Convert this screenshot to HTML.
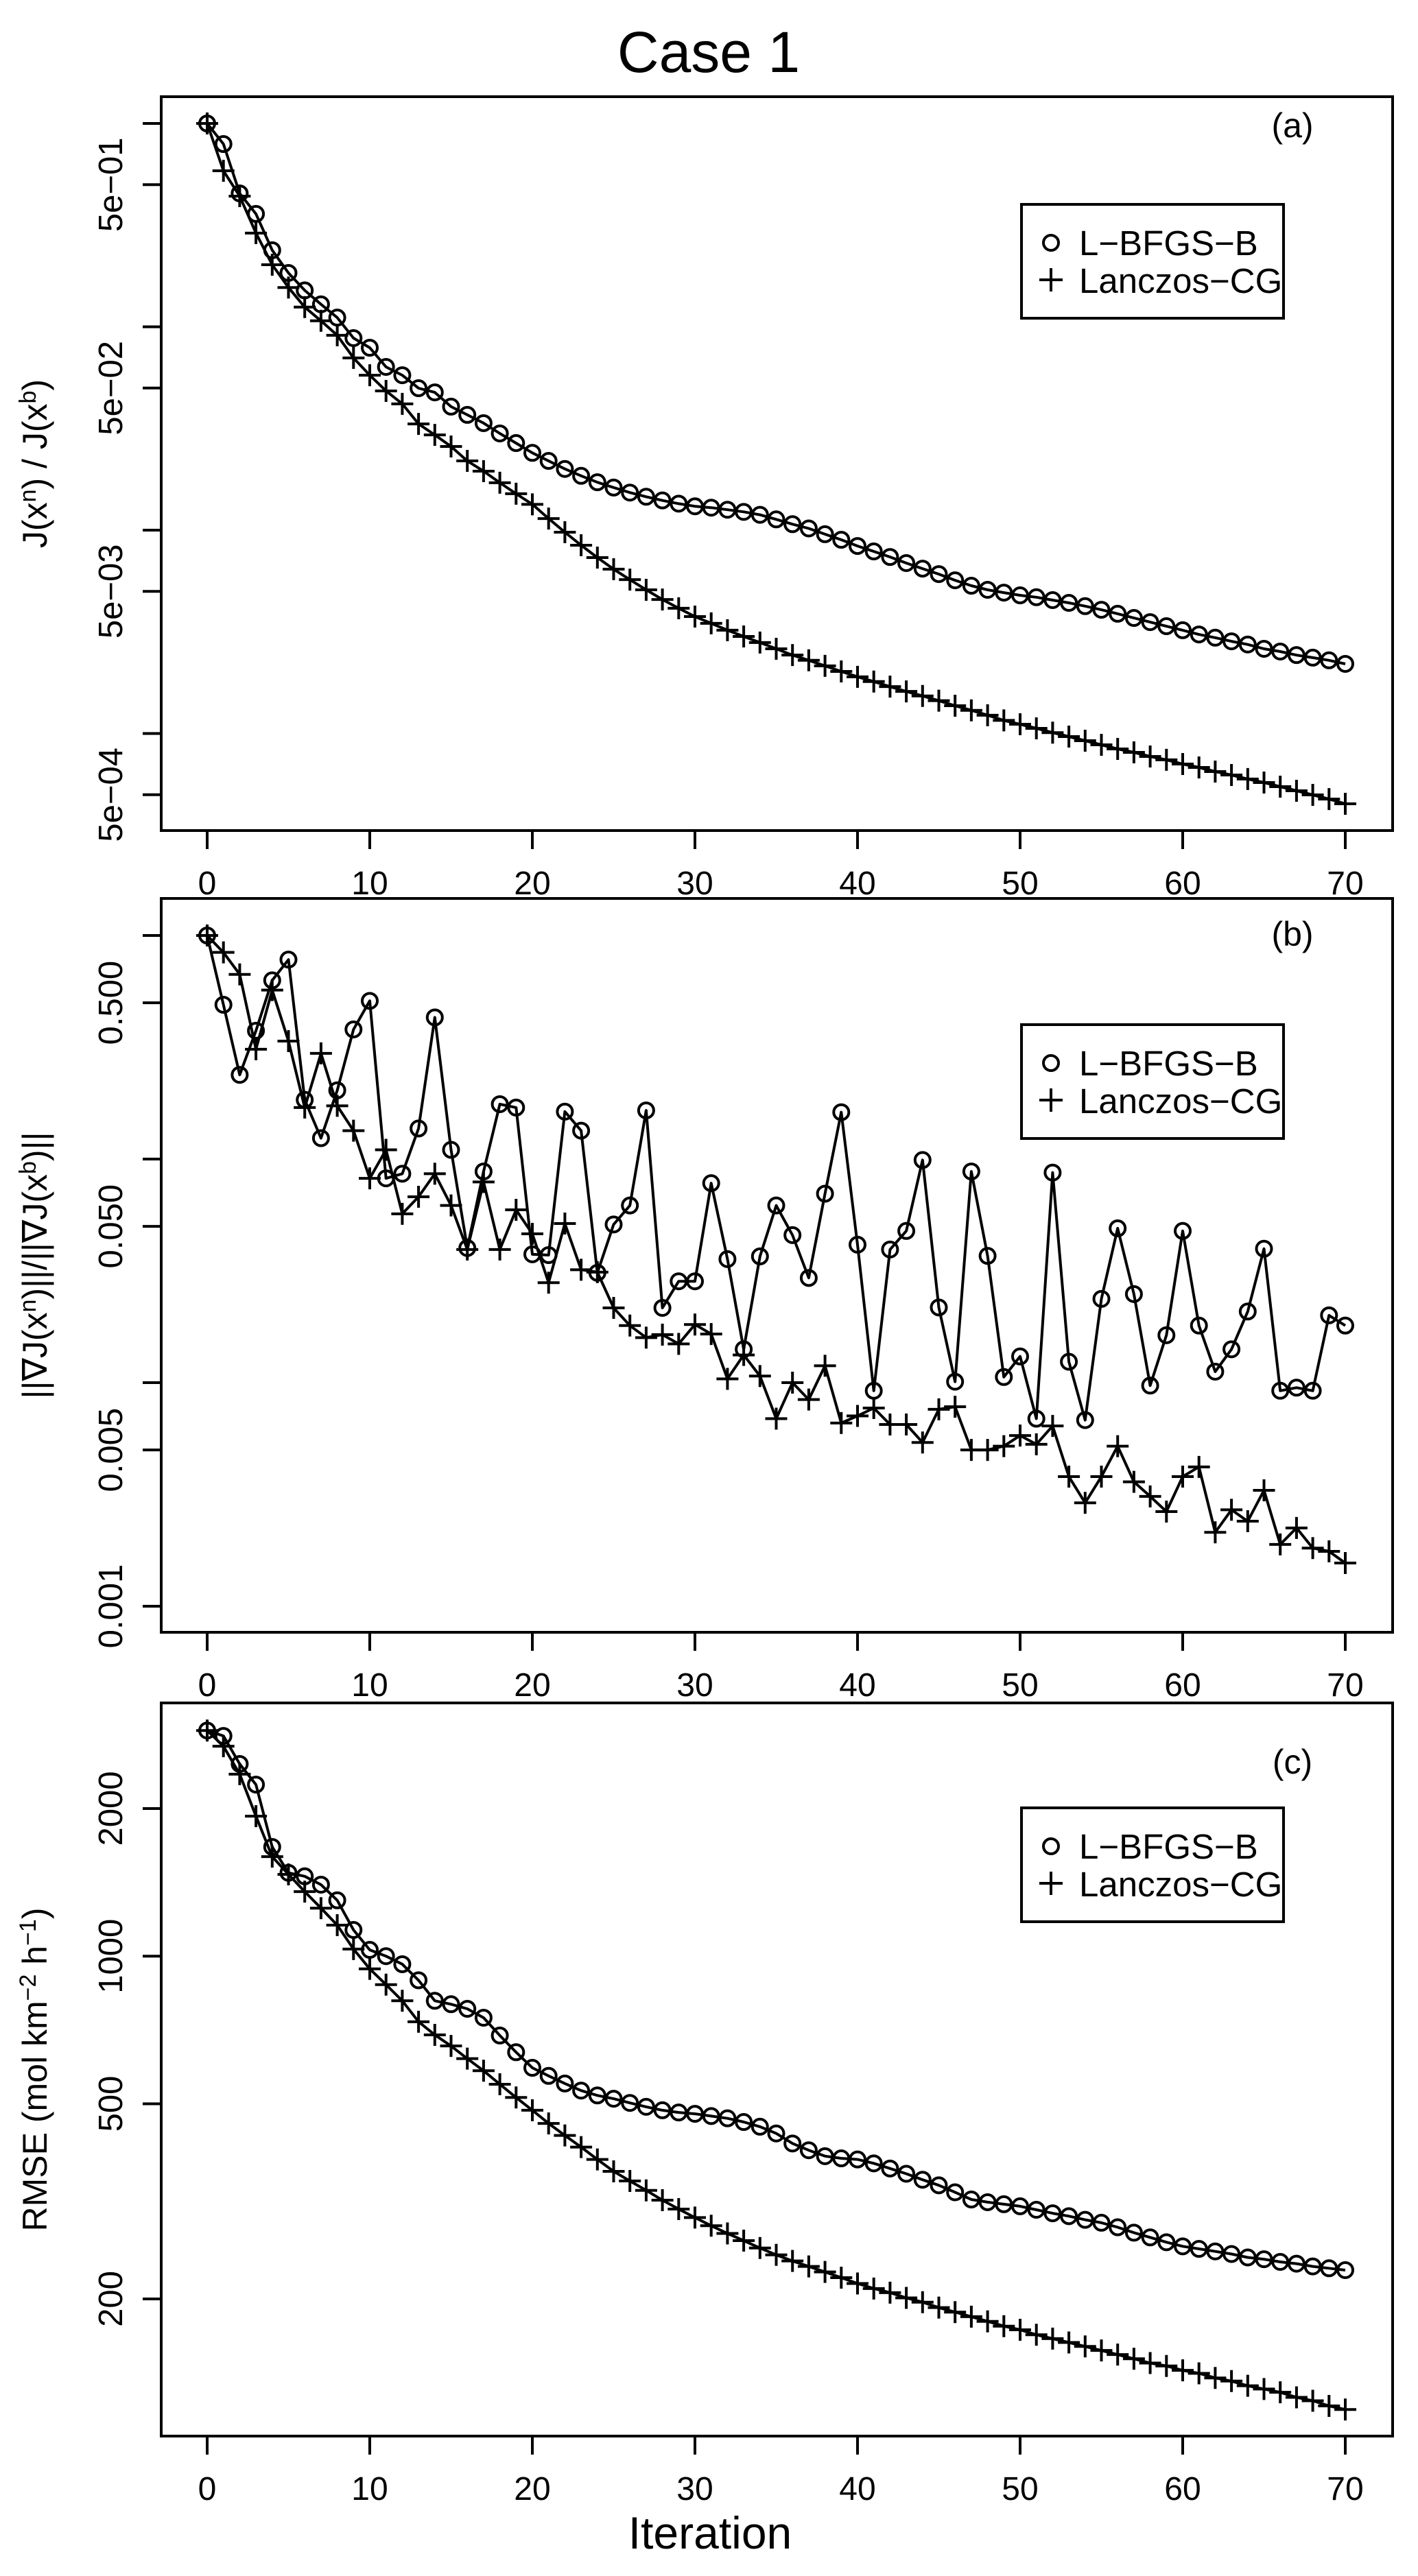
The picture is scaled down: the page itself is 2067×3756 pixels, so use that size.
<!DOCTYPE html>
<html><head><meta charset="utf-8"><style>
html,body{margin:0;padding:0;background:#fff;}
svg{display:block;font-family:"Liberation Sans",Arial,sans-serif;}
</style></head><body>
<svg id="fig" width="2067" height="3756" viewBox="0 0 2067 3756" xmlns="http://www.w3.org/2000/svg">
<rect width="2067" height="3756" fill="#fff"/>
<text x="1033" y="105" font-size="84" text-anchor="middle">Case 1</text>
<text x="1035" y="3716" font-size="66" text-anchor="middle">Iteration</text>
</svg>
<script>
const iterations = Array.from({length:71},(_, i)=>i);
const xTicks = [0,10,20,30,40,50,60,70];
const seriesNames = ["L\u2212BFGS\u2212B","Lanczos\u2212CG"];

const aLbfgs = [1,0.792,0.453,0.359,0.238,0.184,0.151,0.129,0.111,0.088,0.0789,0.0635,0.0578,0.0499,0.0476,0.0405,0.0369,0.0336,0.0299,0.0268,0.024,0.0219,0.02,0.0185,0.0172,0.0162,0.0153,0.0146,0.014,0.0135,0.0131,0.0129,0.0126,0.0123,0.0119,0.0113,0.0107,0.0102,0.00955,0.00897,0.00836,0.00786,0.00738,0.00689,0.00647,0.00608,0.00567,0.00533,0.00509,0.00493,0.00478,0.00468,0.00453,0.00439,0.00423,0.00406,0.00388,0.0037,0.00353,0.00337,0.00322,0.00307,0.00296,0.00284,0.00274,0.00261,0.00253,0.00243,0.00236,0.00229,0.0022];
const aLanczos = [1,0.585,0.439,0.289,0.202,0.156,0.125,0.107,0.0908,0.0703,0.0578,0.0484,0.0418,0.0333,0.0294,0.0258,0.0219,0.0195,0.0171,0.0151,0.0134,0.0114,0.00977,0.00843,0.00733,0.00643,0.00571,0.00509,0.00456,0.00413,0.00376,0.00348,0.00322,0.003,0.0028,0.00261,0.00243,0.00229,0.00215,0.00202,0.0019,0.0018,0.0017,0.00161,0.00153,0.00145,0.00137,0.0013,0.00123,0.00116,0.00111,0.00106,0.00101,0.000966,0.000922,0.00088,0.00084,0.000808,0.000771,0.000742,0.000708,0.000681,0.00065,0.000625,0.000597,0.000574,0.000548,0.000523,0.000499,0.000476,0.000451];
const aTickVals = [1,0.5,0.1,0.05,0.01,0.005,0.001,0.0005];
const aTickLabels = ["","5e\u221201","","5e\u221202","","5e\u221203","","5e\u221204"];

const bLbfgs = [1,0.49,0.238,0.375,0.63,0.78,0.184,0.124,0.203,0.38,0.51,0.082,0.086,0.137,0.43,0.11,0.04,0.088,0.176,0.17,0.0375,0.0372,0.163,0.134,0.031,0.051,0.062,0.165,0.0216,0.0284,0.0284,0.078,0.0357,0.0141,0.0367,0.062,0.0457,0.0294,0.07,0.162,0.0414,0.0092,0.0394,0.0477,0.099,0.0217,0.0101,0.088,0.0369,0.0106,0.0131,0.0069,0.087,0.0124,0.0068,0.0237,0.049,0.0249,0.0097,0.0163,0.0477,0.018,0.0112,0.0141,0.0208,0.0397,0.0092,0.0095,0.0092,0.02,0.018];
const bLanczos = [1,0.84,0.67,0.31,0.57,0.337,0.17,0.297,0.173,0.134,0.082,0.11,0.0569,0.0678,0.086,0.062,0.0394,0.079,0.0394,0.0593,0.0463,0.028,0.0515,0.032,0.0312,0.0216,0.018,0.0159,0.0164,0.0149,0.0182,0.0165,0.0104,0.0133,0.0107,0.0069,0.01,0.0084,0.0119,0.0066,0.0071,0.0077,0.0065,0.0065,0.0054,0.0076,0.0078,0.005,0.005,0.0052,0.0058,0.0053,0.0064,0.0038,0.0029,0.0038,0.0052,0.0036,0.0031,0.00265,0.0038,0.0042,0.00214,0.0027,0.0024,0.0033,0.00189,0.00224,0.00182,0.00176,0.00156];
const bTickVals = [1,0.5,0.1,0.05,0.01,0.005,0.001];
const bTickLabels = ["","0.500","","0.050","","0.005","0.001"];

const cLbfgs = [2885,2813,2466,2238,1670,1479,1455,1399,1300,1131,1030,1000,963,893,811,798,781,749,689,637,592,570,550,532,520,512,502,493,485,480,477,472,467,459,449,435,415,402,391,387,385,378,369,360,350,341,330,319,315,312,309,304,299,295,290,286,280,273,267,261,256,253,250,247,243,241,238,236,233,231,229];
const cLanczos = [2885,2680,2350,1930,1596,1468,1354,1253,1157,1034,942,875,811,735,691,656,618,584,548,515,485,456,431,408,385,364,348,333,318,305,293,282,272,263,254,246,239,233,227,221,215,210,206,201,197,192,188,184,180,176,173,169,166,163,160,157,154,151,148,146,143,141,138,136,133,131,129,126,124,121,119];
const cTickVals = [2000,1000,500,200];
const cTickLabels = ["2000","1000","500","200"];

const NS="http://www.w3.org/2000/svg";
const svg=document.getElementById('fig');
function mk(tag,attrs,parent){const e=document.createElementNS(NS,tag);for(const k in attrs)e.setAttribute(k,attrs[k]);(parent||svg).appendChild(e);return e;}

const X0=302, XSTEP=23.7, LEFT=235, RIGHT=2030;
function xScale(i){return X0+XSTEP*i;}

function drawPanel(p){
  const g=mk('g',{});
  
  
  const yScale=v=>p.refY-p.decade*Math.log10(v/p.refV);
  const box=mk('rect',{x:LEFT,y:p.top,width:RIGHT-LEFT,height:p.bottom-p.top,fill:'none',stroke:'#000','stroke-width':4},g);
  
  
  const yt0=yScale(p.tickVals[0]), yt1=yScale(p.tickVals[p.tickVals.length-1]);
  mk('line',{x1:LEFT,x2:LEFT,y1:yt0,y2:yt1,stroke:'#000','stroke-width':4},g);
  p.tickVals.forEach((v,k)=>{
    const y=yScale(v);
    const t=mk('line',{x1:LEFT-27,x2:LEFT,y1:y,y2:y,stroke:'#000','stroke-width':4},g);
    
    
    if(p.tickLabels[k]){
      const tx=mk('text',{x:178,y:y,'font-size':49,'text-anchor':'middle',transform:`rotate(-90 178 ${y})`},g);
      
      
      tx.textContent=p.tickLabels[k];
    }
  });
  mk('line',{x1:xScale(xTicks[0]),x2:xScale(xTicks[xTicks.length-1]),y1:p.bottom,y2:p.bottom,stroke:'#000','stroke-width':4},g);
  xTicks.forEach(v=>{
    const x=xScale(v);
    const t=mk('line',{x1:x,x2:x,y1:p.bottom,y2:p.bottom+27,stroke:'#000','stroke-width':4},g);
    
    
    const tx=mk('text',{x:x,y:p.bottom+93,'font-size':48,'text-anchor':'middle'},g);
    
    
    tx.textContent=String(v);
  });
  const cy=(p.top+p.bottom)/2;
  const yt=mk('text',{x:0,y:0,'font-size':50,'text-anchor':'middle',transform:`translate(68 ${cy}) rotate(-90)`},g);
  
  
  yt.innerHTML=p.ytitle;
  const pl=mk('text',{x:1884,y:p.top+p.labelOff+18,'font-size':50,'text-anchor':'middle'},g);
  
  
  pl.textContent='('+p.key+')';
  [p.s1,p.s2].forEach((arr,si)=>{
    const pts=arr.map((v,i)=>xScale(iterations[i]).toFixed(1)+','+yScale(v).toFixed(1)).join(' ');
    const line=mk('polyline',{points:pts,fill:'none',stroke:'#000','stroke-width':4,'stroke-linejoin':'round'},g);
    
    
    arr.forEach((v,i)=>{
      const x=xScale(iterations[i]), y=yScale(v);
      let m;
      if(si===0){m=mk('circle',{cx:x,cy:y,r:11,fill:'none',stroke:'#000','stroke-width':4},g);}
      else{m=mk('path',{d:`M${x-16} ${y}H${x+16}M${x} ${y-16}V${y+16}`,stroke:'#000','stroke-width':4,fill:'none'},g);}
      
      
    });
  });
  const lt=p.top+p.legendOff;
  const lg=mk('g',{},g);
  
  
  mk('rect',{x:1489,y:lt,width:382,height:166,fill:'#fff',stroke:'#000','stroke-width':4},lg);
  const c=mk('circle',{cx:1532,cy:lt+56,r:11,fill:'none',stroke:'#000','stroke-width':4},lg);
  
  
  const pl2=mk('path',{d:`M1515 ${lt+110}H1549M1532 ${lt+93}V${lt+127}`,stroke:'#000','stroke-width':4},lg);
  
  
  const t1=mk('text',{x:1573,y:lt+74,'font-size':51},lg);
  
  
  t1.textContent=seriesNames[0];
  const t2=mk('text',{x:1573,y:lt+129,'font-size':51},lg);
  
  
  t2.textContent=seriesNames[1];
}

drawPanel({key:'a',name:'panel-a-cost-ratio',top:141,bottom:1211,refY:180,refV:1,decade:296.5,
  tickVals:aTickVals,tickLabels:aTickLabels,s1:aLbfgs,s2:aLanczos,labelOff:41,legendOff:157,
  ytitle:'J(x<tspan dy="-16" font-size="34">n</tspan><tspan dy="16">) / J(x</tspan><tspan dy="-16" font-size="34">b</tspan><tspan dy="16">)</tspan>'});
drawPanel({key:'b',name:'panel-b-gradient-norm',top:1310,bottom:2380,refY:1364,refV:1,decade:326,
  tickVals:bTickVals,tickLabels:bTickLabels,s1:bLbfgs,s2:bLanczos,labelOff:51,legendOff:184,
  ytitle:'||\u2207J(x<tspan dy="-16" font-size="34">n</tspan><tspan dy="16">)||/||\u2207J(x</tspan><tspan dy="-16" font-size="34">b</tspan><tspan dy="16">)||</tspan>'});
drawPanel({key:'c',name:'panel-c-rmse',top:2483,bottom:3552,refY:2637,refV:2000,decade:715,
  tickVals:cTickVals,tickLabels:cTickLabels,s1:cLbfgs,s2:cLanczos,labelOff:85,legendOff:153,
  ytitle:'RMSE  (mol km<tspan dy="-16" font-size="34">\u22122</tspan><tspan dy="16"> h</tspan><tspan dy="-16" font-size="34">\u22121</tspan><tspan dy="16">)</tspan>'});
</script>
</body></html>
